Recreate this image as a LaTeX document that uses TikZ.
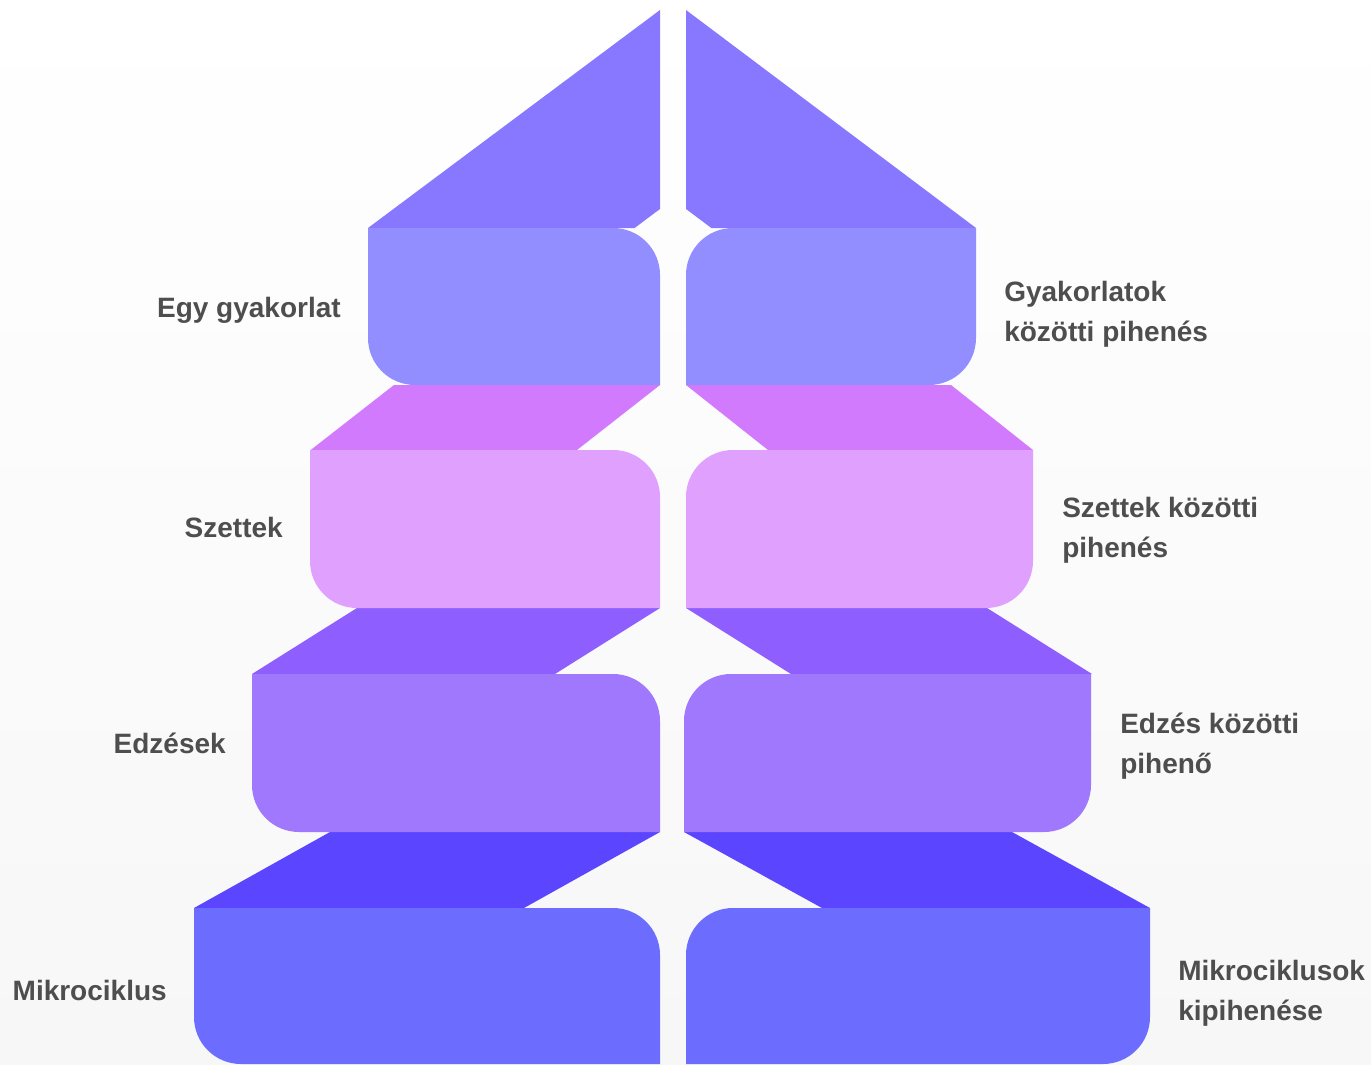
\documentclass[tikz,border=0pt]{standalone}
\usepackage{fontspec}
\setmainfont{Liberation Sans}
\begin{document}
\definecolor{labelgray}{RGB}{78,78,78}
\definecolor{bgbottom}{RGB}{247,247,247}
\definecolor{capA}{RGB}{136,120,255}
\definecolor{slabA}{RGB}{147,142,255}
\definecolor{capB}{RGB}{209,122,253}
\definecolor{slabB}{RGB}{224,160,254}
\definecolor{capC}{RGB}{143,94,254}
\definecolor{slabC}{RGB}{160,120,254}
\definecolor{capD}{RGB}{92,69,254}
\definecolor{slabD}{RGB}{108,108,254}
% slab with rounded top-right and bottom-left corners: color, x-left, x-right, y-top, y-bottom
\newcommand\slabL[5]{\fill[#1] (#2,#4) -- ({#3-47},#4) arc[start angle=90,end angle=0,radius=35.25pt] -- (#3,#5) -- ({#2+47},#5) arc[start angle=270,end angle=180,radius=35.25pt] -- cycle;}
% slab with rounded top-left and bottom-right corners
\newcommand\slabR[5]{\fill[#1] (#3,#4) -- ({#2+47},#4) arc[start angle=90,end angle=180,radius=35.25pt] -- (#2,#5) -- ({#3-47},#5) arc[start angle=270,end angle=360,radius=35.25pt] -- cycle;}
\begin{tikzpicture}[x=0.75pt,y=-0.75pt,
  lab/.style={font=\bfseries\fontsize{21}{30}\selectfont, text=labelgray, inner sep=0pt}]
\useasboundingbox (0,0) rectangle (1371,1064);
\shade[top color=white, bottom color=bgbottom] (0,0) rectangle (1371,1064);

% left column: slanted bands
\fill[capA] (368,228) -- (660,10) -- (660,209) -- (634.6,228) -- cycle;
\fill[capB] (310.7,450) -- (394,385) -- (660,385) -- (577,450) -- cycle;
\fill[capC] (252,674) -- (357,608) -- (660,608) -- (555,674) -- cycle;
\fill[capD] (194,908) -- (330,832) -- (660,832) -- (524,908) -- cycle;
% left column: slabs
\slabL{slabA}{368}{660}{228}{385}
\slabL{slabB}{310}{660}{450}{608}
\slabL{slabC}{252}{660}{674}{832}
\slabL{slabD}{194}{660}{908}{1064}

% right column: slanted bands
\fill[capA] (976,228) -- (686,10) -- (686,209) -- (711.4,228) -- cycle;
\fill[capB] (686,385) -- (768,450) -- (1033,450) -- (951,385) -- cycle;
\fill[capC] (686,608) -- (791,674) -- (1092,674) -- (987,608) -- cycle;
\fill[capD] (684,832) -- (822,908) -- (1150,908) -- (1012,832) -- cycle;
% right column: slabs
\slabR{slabA}{686}{976}{228}{385}
\slabR{slabB}{686}{1033}{450}{608}
\slabR{slabC}{684}{1091}{674}{832}
\slabR{slabD}{686}{1150}{908}{1064}

% left labels
\node[lab, anchor=base east] (l1) at (341,317) {Egy gyakorlat};
\node[lab, anchor=base east] (l2) at (283,537) {Szettek};
\node[lab, anchor=base east] (l3) at (226,753) {Edzések};
\node[lab, anchor=base east] (l4) at (167,1000) {Mikrociklus};

% right labels
\node[lab, anchor=base west] (r1) at (1004,301) {\vtop{\hbox{Gyakorlatok}\hbox{közötti pihenés}}};
\node[lab, anchor=base west] (r2) at (1062,517) {\vtop{\hbox{Szettek közötti}\hbox{pihenés}}};
\node[lab, anchor=base west] (r3) at (1120,733) {\vtop{\hbox{Edzés közötti}\hbox{pihenő}}};
\node[lab, anchor=base west] (r4) at (1178,980) {\vtop{\hbox{Mikrociklusok}\hbox{kipihenése}}};
\end{tikzpicture}
\end{document}
